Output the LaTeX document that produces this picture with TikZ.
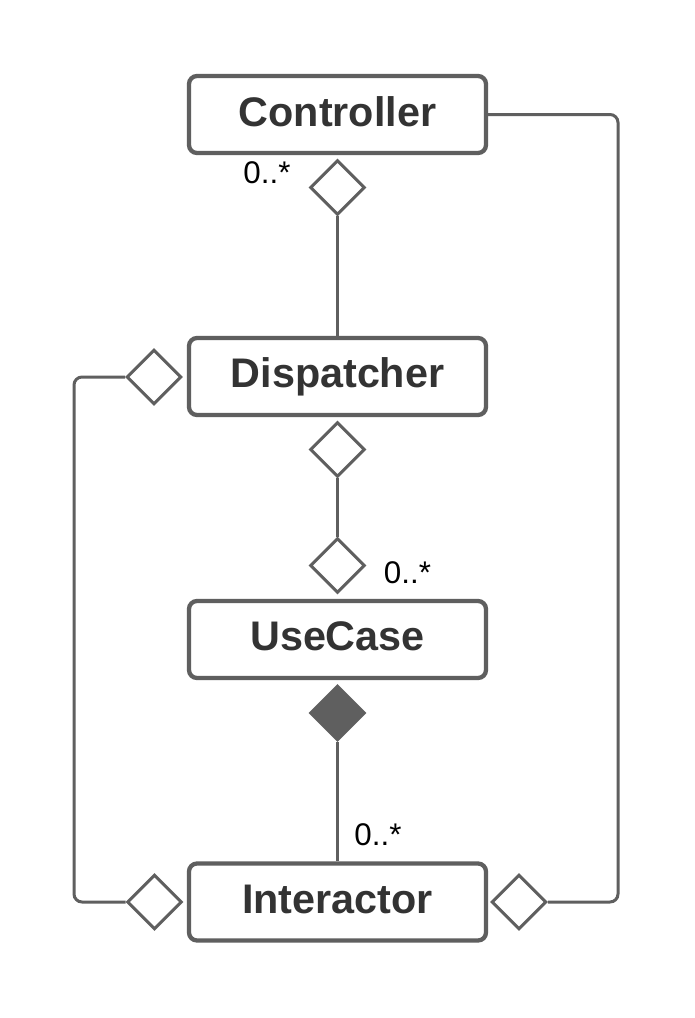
\documentclass[tikz,border=0pt]{standalone}
\usepackage{fontspec}
\setmainfont{Liberation Sans}
\usetikzlibrary{shapes.geometric}
\definecolor{linegray}{HTML}{5F5F5F}
\definecolor{textgray}{HTML}{333333}
\newcommand{\clsname}[1]{\raisebox{4.5pt}{#1}}
\tikzset{
  classbox/.style={draw=linegray, line width=3.2pt, rounded corners=6pt, fill=white,
    minimum width=222.75pt, minimum height=57.75pt, inner sep=0pt,
    text=textgray, font=\fontsize{31}{36}\selectfont\bfseries},
  agg/.style={draw=linegray, line width=2.25pt, diamond, fill=white, inner sep=0pt,
    minimum width=41pt, minimum height=41pt},
  comp/.style={agg, fill=linegray},
  conn/.style={draw=linegray, line width=2.25pt},
  mult/.style={text=black, font=\fontsize{23.5}{28}\selectfont, inner sep=0pt}
}
\begin{document}
\begin{tikzpicture}[x=0.75pt, y=-0.75pt]
\useasboundingbox (0,0) rectangle (694,1018);
\fill[white] (0,0) rectangle (694,1018);
% classes
\node[classbox] (ctrl) at (337.5,114.5) {\clsname{Controller}};
\node[classbox] (disp) at (337.5,376.5) {\clsname{Dispatcher}};
\node[classbox] (uc) at (337.5,639.5) {\clsname{UseCase}};
\node[classbox] (inter) at (337.5,902) {\clsname{Interactor}};
% diamonds
\node[agg] (d1) at (337.5,187.5) {};
\node[agg] (d2) at (154,377) {};
\node[agg] (d3) at (337.5,449.5) {};
\node[agg] (d4) at (337.5,565.5) {};
\node[comp] (d5) at (337.5,713) {};
\node[agg] (d6) at (154.5,902) {};
\node[agg] (d7) at (519,902) {};
% helper coordinates
\coordinate (lx) at (74,0);
\coordinate (rx) at (618,0);
% connectors
\draw[conn] (d1.south) -- (disp.north);
\draw[conn] (d3.south) -- (d4.north);
\draw[conn] (d5.south) -- (inter.north);
\draw[conn, rounded corners=6pt] (d2.west) -- (d2.west -| lx) |- (d6.west);
\draw[conn, rounded corners=6pt] (ctrl.east) -- (ctrl.east -| rx) |- (d7.east);
% multiplicities
\node[mult] (m1) at (267,173) {0..*};
\node[mult] (m2) at (407.5,573) {0..*};
\node[mult] (m3) at (378,835) {0..*};
\end{tikzpicture}
\end{document}
